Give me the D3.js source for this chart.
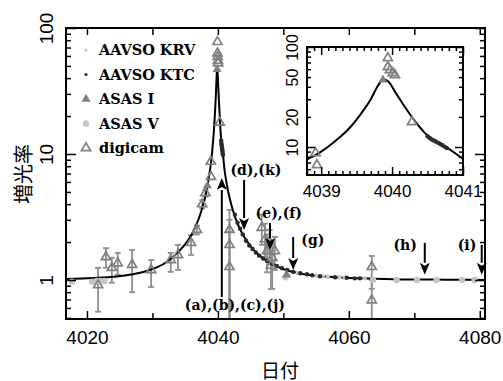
<!DOCTYPE html>
<html>
<head>
<meta charset="utf-8">
<script src="https://cdn.jsdelivr.net/npm/d3@7"></script>
<style>
  body { margin: 0; background: #fff; }
  svg { display: block; }
</style>
</head>
<body>
<svg id="chart" width="503" height="381"></svg>
<script>
// model light curve
const curveT = [4016.8, 4020, 4024, 4027, 4030, 4032, 4034, 4035.5, 4036.5, 4037.5, 4038.2, 4038.8, 4039.0, 4039.2, 4039.4, 4039.55, 4039.7, 4039.8, 4039.88, 4039.95, 4040.05, 4040.2, 4040.4, 4040.5, 4040.6, 4040.7, 4040.8, 4041.0, 4041.4, 4041.8, 4042.3, 4043, 4044, 4045, 4046.5, 4048, 4050, 4052, 4055, 4058, 4062, 4068, 4075, 4080.8];
const curveA = [1.02, 1.03, 1.06, 1.11, 1.22, 1.37, 1.68, 2.08, 2.59, 3.56, 4.9, 7.5, 9.0, 11.5, 15.5, 21, 30, 41, 47.5, 45, 35, 24, 15.5, 13.0, 11.6, 10.5, 9.6, 7.6, 5.6, 4.45, 3.56, 2.8, 2.2, 1.85, 1.54, 1.36, 1.22, 1.14, 1.08, 1.05, 1.03, 1.01, 1.005, 1.0];

// AAVSO KRV
const krvT = [4052.2, 4055.1, 4056.0, 4056.8, 4058.6, 4059.4, 4062.4];
const krvA = [1.13, 1.08, 1.07, 1.06, 1.05, 1.04, 1.03];

// AAVSO KTC
const ktcT = [4040.50, 4040.53, 4040.56, 4040.59, 4040.62, 4040.65, 4040.68, 4040.71, 4040.74, 4040.77,
  4042.6, 4043.0, 4043.4, 4043.8, 4044.3, 4044.8, 4045.3, 4045.8, 4046.3, 4046.9, 4047.5, 4048.2,
  4049.0, 4049.8, 4050.6, 4051.5, 4052.6, 4053.6, 4054.4, 4055.6, 4057.9, 4059.7, 4060.9, 4061.7];
const ktcA = [12.8, 12.3, 11.9, 11.6, 11.3, 11.0, 10.7, 10.4, 10.1, 9.8,
  3.3, 2.85, 2.55, 2.3, 2.05, 1.88, 1.76, 1.65, 1.56, 1.48, 1.42, 1.35,
  1.29, 1.24, 1.20, 1.16, 1.13, 1.11, 1.09, 1.07, 1.05, 1.04, 1.03, 1.03];

// ASAS I
const asasIT = [4038.4, 4039.87, 4050.5];
const asasIA = [5.6, 47, 1.1];

// ASAS V
const asasVT = [4017.7, 4020.8, 4021.5, 4022.0, 4022.7, 4050.3, 4063.7, 4067.3, 4070.4, 4073.4, 4077.3, 4079.2];
const asasVA = [0.97, 0.97, 0.98, 0.98, 0.98, 1.05, 1.0, 1.0, 1.0, 1.0, 1.0, 1.0];

// digicam with error bars (lo/hi equal to value = no bar)
const digiT  = [4021.7, 4022.9, 4023.8, 4024.7, 4026.9, 4029.8, 4032.8, 4033.9, 4035.9, 4036.8,
  4037.6, 4038.1, 4038.92, 4038.94, 4039.94, 4039.94, 4039.97, 4040.01, 4040.04, 4040.28,
  4041.77, 4041.77, 4041.77, 4046.7, 4047.2, 4047.5, 4047.9, 4048.3, 4048.7, 4048.1, 4063.5, 4063.5];
const digiA  = [0.91, 1.52, 1.25, 1.36, 1.32, 1.2, 1.44, 1.58, 1.97, 2.5,
  4.0, 4.9, 8.7, 6.6, 77.6, 63, 59, 55, 52.5, 17.8,
  2.5, 1.9, 1.27, 2.6, 2.1, 1.7, 2.0, 1.5, 1.7, 1.3, 1.27, 0.69];
const digiLo = [0.56, 1.25, 0.95, 1.1, 0.8, 0.88, 1.16, 1.2, 1.58, 2.3,
  3.7, 4.6, 8.7, 6.6, 77.6, 63, 59, 55, 52.5, 17.8,
  0.3, 0.3, 0.3, 1.9, 1.5, 1.15, 1.5, 0.85, 1.2, 0.85, 0.85, 0.3];
const digiHi = [1.25, 1.79, 1.5, 1.64, 1.73, 1.44, 1.64, 1.9, 2.27, 2.7,
  4.3, 5.2, 8.7, 6.6, 77.6, 63, 59, 55, 52.5, 17.8,
  3.6, 3.0, 2.4, 3.3, 2.8, 2.3, 2.5, 1.95, 2.2, 1.7, 1.55, 1.0];

// arrows and their labels
const annText   = ["(a),(b),(c),(j)", "(d),(k)", "(e),(f)", "(g)", "(h)", "(i)"];
const annT      = [4040.6, 4044.0, 4047.96, 4051.5, 4071.6, 4080.3];
const annFrom   = [0.733, 6.22, 2.83, 2.19, 1.97, 1.9];
const annTo     = [6.45, 2.49, 1.73, 1.2, 1.1, 1.1];
const annLabelT = [4042.6, 4045.8, 4049.3, 4054.5, 4068.6, 4078.05];
const annLabelA = [0.633, 7.47, 3.4, 2.08, 1.9, 1.9];

const legendNames = ["AAVSO KRV", "AAVSO KTC", "ASAS I", "ASAS V", "digicam"];
const legendKeys  = ["krv", "ktc", "asasI", "asasV", "digi"];

const xMajor = [4020, 4040, 4060, 4080];
const xMinor = [4030, 4050, 4070];
const yMajor = [1, 10, 100];
const yMinor = [0.5, 0.6, 0.7, 0.8, 0.9, 2, 3, 4, 5, 6, 7, 8, 9, 20, 30, 40, 50, 60, 70, 80, 90];
const ixMajor = [4039, 4040, 4041];
const iyLabels = [10, 20, 50, 100];
const iyMajor = [10, 100];
const iyMinor = [6, 7, 8, 9, 20, 30, 40, 50, 60, 70, 80, 90];

const M = {left: 66, right: 485, top: 28, bottom: 319};
const I = {left: 307, right: 463, top: 47, bottom: 175};

const svg = d3.select("#chart");
const x = d3.scaleLinear().domain([4016.8, 4080.8]).range([M.left, M.right]);
const y = d3.scaleLog().domain([0.49, 100]).range([M.bottom, M.top]);
const ix = d3.scaleLinear().domain([4038.8, 4041.0]).range([I.left, I.right]);
const iy = d3.scaleLog().domain([5.25, 100]).range([I.bottom, I.top]);

const LIGHT = "#c4c4c4", DARK = "#2a2a2a", MID = "#808080";
const serif = "'DejaVu Serif', serif";
const sans = "'Liberation Sans', Arial, sans-serif";

const defs = svg.append("defs");
defs.append("clipPath").attr("id", "clipMain").append("rect")
  .attr("x", M.left).attr("y", M.top).attr("width", M.right - M.left).attr("height", M.bottom - M.top);
defs.append("clipPath").attr("id", "clipInset").append("rect")
  .attr("x", I.left).attr("y", I.top).attr("width", I.right - I.left).attr("height", I.bottom - I.top);

const triSym = d3.symbol(d3.symbolTriangle, 36);

function drawSymbol(g, key, cx, cy) {
  if (key === "krv") {
    g.append("circle").attr("cx", cx).attr("cy", cy).attr("r", 2.2).attr("fill", LIGHT);
  } else if (key === "ktc") {
    g.append("circle").attr("cx", cx).attr("cy", cy).attr("r", 2.2).attr("fill", DARK);
  } else if (key === "asasI") {
    g.append("path").attr("d", triSym()).attr("transform", `translate(${cx},${cy})`).attr("fill", MID);
  } else if (key === "asasV") {
    g.append("circle").attr("cx", cx).attr("cy", cy).attr("r", 3.2).attr("fill", LIGHT);
  } else {
    g.append("path").attr("d", triSym()).attr("transform", `translate(${cx},${cy})`)
      .attr("fill", "none").attr("stroke", MID).attr("stroke-width", 1.7);
  }
}

function drawData(g, xs, ys, withErrors) {
  const digi = digiT.map((t, i) => ({t, a: digiA[i], lo: digiLo[i], hi: digiHi[i]}));
  if (withErrors) {
    const eb = g.append("g").attr("stroke", "#8f8f8f").attr("stroke-width", 1.8);
    digi.filter(d => d.hi > d.lo).forEach(d => {
      eb.append("line").attr("x1", xs(d.t)).attr("x2", xs(d.t)).attr("y1", ys(d.lo)).attr("y2", ys(d.hi));
      [d.lo, d.hi].forEach(v => {
        eb.append("line").attr("x1", xs(d.t) - 3).attr("x2", xs(d.t) + 3).attr("y1", ys(v)).attr("y2", ys(v));
      });
    });
  }
  const line = d3.line().x(d => xs(d[0])).y(d => ys(d[1])).curve(d3.curveMonotoneX);
  g.append("path").datum(curveT.map((t, i) => [t, curveA[i]]))
    .attr("d", line).attr("fill", "none").attr("stroke", "#000").attr("stroke-width", 2);

  asasVT.forEach((t, i) => drawSymbol(g, "asasV", xs(t), ys(asasVA[i])));
  krvT.forEach((t, i) => drawSymbol(g, "krv", xs(t), ys(krvA[i])));
  ktcT.forEach((t, i) => drawSymbol(g, "ktc", xs(t), ys(ktcA[i])));
  asasIT.forEach((t, i) => drawSymbol(g, "asasI", xs(t), ys(asasIA[i])));
  digi.forEach(d => drawSymbol(g, "digi", xs(d.t), ys(d.a)));
}

// main panel data
const plot = svg.append("g").attr("clip-path", "url(#clipMain)");
drawData(plot, x, y, true);

// arrows + labels
const ann = svg.append("g");
annText.forEach((lab, i) => {
  const ax = x(annT[i]), y0 = y(annFrom[i]), y1 = y(annTo[i]);
  const dir = Math.sign(y1 - y0), hl = 12, hw = 5;
  ann.append("line").attr("x1", ax).attr("x2", ax).attr("y1", y0).attr("y2", y1 - dir * hl)
    .attr("stroke", "#000").attr("stroke-width", 2);
  ann.append("path").attr("d", `M${ax},${y1}L${ax - hw},${y1 - dir * hl}L${ax},${y1 - dir * (hl - 3)}L${ax + hw},${y1 - dir * hl}Z`)
    .attr("fill", "#000");
  ann.append("text").attr("x", x(annLabelT[i])).attr("y", y(annLabelA[i])).attr("dy", "0.35em")
    .attr("text-anchor", "middle").attr("font-family", serif).attr("font-weight", "bold")
    .attr("font-size", 14).text(lab);
});

// legend
const leg = svg.append("g");
legendNames.forEach((name, i) => {
  const cy = 50 + i * 24.5;
  const key = legendKeys[i];
  if (key === "krv" || key === "ktc") {
    leg.append("circle").attr("cx", 86).attr("cy", cy).attr("r", 1.6).attr("fill", key === "krv" ? LIGHT : DARK);
  } else {
    drawSymbol(leg, key, 86, cy);
  }
  leg.append("text").attr("x", 99).attr("y", cy).attr("dy", "0.36em")
    .attr("font-family", serif).attr("font-weight", "bold").attr("font-size", 14.5).text(name);
});

// main axes
function styleAxis(g) {
  g.select(".domain").remove();
  g.selectAll(".tick line").attr("stroke", "#000").attr("stroke-width", 1.5);
}
const ax = svg.append("g");
ax.append("g").attr("transform", `translate(0,${M.bottom})`)
  .call(d3.axisBottom(x).tickValues(xMajor).tickSize(-8).tickPadding(12).tickFormat(d3.format("d")))
  .call(styleAxis)
  .selectAll("text").attr("font-family", sans).attr("font-size", 19).attr("fill", "#000");
ax.append("g").attr("transform", `translate(0,${M.bottom})`)
  .call(d3.axisBottom(x).tickValues(xMinor).tickSize(-6).tickFormat("")).call(styleAxis);
ax.append("g").attr("transform", `translate(0,${M.top})`)
  .call(d3.axisTop(x).tickValues(xMajor.concat(xMinor)).tickSize(-7).tickFormat("")).call(styleAxis);
ax.append("g").attr("transform", `translate(${M.left},0)`)
  .call(d3.axisLeft(y).tickValues(yMajor).tickSize(-10).tickFormat(d3.format("d")))
  .call(styleAxis)
  .selectAll("text").attr("x", 0).attr("dy", 0).attr("text-anchor", "middle")
  .attr("transform", "translate(-13,0) rotate(-90)")
  .attr("font-family", sans).attr("font-size", 19).attr("fill", "#000");
ax.append("g").attr("transform", `translate(${M.left},0)`)
  .call(d3.axisLeft(y).tickValues(yMinor).tickSize(-5).tickFormat("")).call(styleAxis);
ax.append("g").attr("transform", `translate(${M.right},0)`)
  .call(d3.axisRight(y).tickValues(yMajor).tickSize(-10).tickFormat("")).call(styleAxis);
ax.append("g").attr("transform", `translate(${M.right},0)`)
  .call(d3.axisRight(y).tickValues(yMinor).tickSize(-5).tickFormat("")).call(styleAxis);

svg.append("rect").attr("x", M.left).attr("y", M.top)
  .attr("width", M.right - M.left).attr("height", M.bottom - M.top)
  .attr("fill", "none").attr("stroke", "#000").attr("stroke-width", 2);

// axis titles
svg.append("text").attr("x", 280).attr("y", 369).attr("text-anchor", "middle")
  .attr("dominant-baseline", "central")
  .attr("font-family", "'Noto Sans CJK JP', sans-serif").attr("font-size", 19).text("日付");
svg.append("text").attr("transform", "translate(22,174) rotate(-90)").attr("text-anchor", "middle")
  .attr("dominant-baseline", "central")
  .attr("font-family", "'Noto Sans CJK JP', sans-serif").attr("font-size", 20).text("増光率");

// inset
svg.append("rect").attr("x", I.left).attr("y", I.top)
  .attr("width", I.right - I.left).attr("height", I.bottom - I.top).attr("fill", "#fff");
const inset = svg.append("g").attr("clip-path", "url(#clipInset)");
drawData(inset, ix, iy, false);

const ixMinor = d3.range(4038.8, 4041.05, 0.1).map(v => +v.toFixed(1)).filter(v => !ixMajor.includes(v));
const ia = svg.append("g");
ia.append("g").attr("transform", `translate(0,${I.bottom})`)
  .call(d3.axisBottom(ix).tickValues(ixMajor).tickSize(-8).tickPadding(10).tickFormat(d3.format("d")))
  .call(styleAxis)
  .selectAll("text").attr("font-family", sans).attr("font-size", 17).attr("fill", "#000");
ia.append("g").attr("transform", `translate(0,${I.bottom})`)
  .call(d3.axisBottom(ix).tickValues(ixMinor).tickSize(-4).tickFormat("")).call(styleAxis);
ia.append("g").attr("transform", `translate(0,${I.top})`)
  .call(d3.axisTop(ix).tickValues(ixMajor).tickSize(-8).tickFormat("")).call(styleAxis);
ia.append("g").attr("transform", `translate(0,${I.top})`)
  .call(d3.axisTop(ix).tickValues(ixMinor).tickSize(-4).tickFormat("")).call(styleAxis);
ia.append("g").attr("transform", `translate(${I.left},0)`)
  .call(d3.axisLeft(iy).tickValues(iyLabels).tickSize(0).tickFormat(d3.format("d")))
  .call(styleAxis)
  .selectAll("text").attr("x", 0).attr("dy", 0).attr("text-anchor", "middle")
  .attr("transform", "translate(-9,0) rotate(-90)")
  .attr("font-family", sans).attr("font-size", 16).attr("fill", "#000");
[[I.left, d3.axisLeft], [I.right, d3.axisRight]].forEach(([px, fn]) => {
  ia.append("g").attr("transform", `translate(${px},0)`)
    .call(fn(iy).tickValues(iyMajor).tickSize(-8).tickFormat("")).call(styleAxis);
  ia.append("g").attr("transform", `translate(${px},0)`)
    .call(fn(iy).tickValues(iyMinor).tickSize(-4).tickFormat("")).call(styleAxis);
});
svg.append("rect").attr("x", I.left).attr("y", I.top)
  .attr("width", I.right - I.left).attr("height", I.bottom - I.top)
  .attr("fill", "none").attr("stroke", "#000").attr("stroke-width", 2);
</script>
</body>
</html>
